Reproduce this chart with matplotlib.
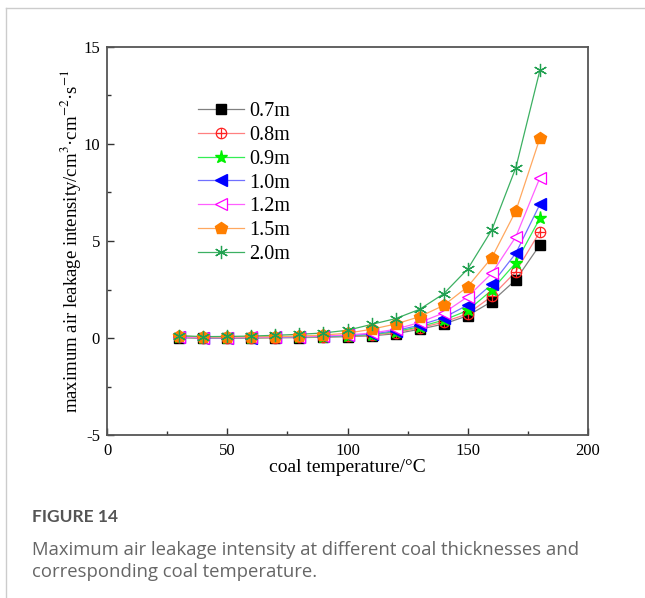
import matplotlib
matplotlib.use("Agg")
import matplotlib.pyplot as plt
from matplotlib.lines import Line2D
from matplotlib.legend_handler import HandlerTuple
from matplotlib.ticker import MultipleLocator

plt.rcParams['font.family'] = ['Liberation Serif', 'DejaVu Serif']
plt.rcParams['mathtext.fontset'] = 'stix'
plt.rcParams['axes.unicode_minus'] = False

temperature = [30, 40, 50, 60, 70, 80, 90, 100, 110, 120, 130, 140, 150, 160, 170, 180]
labels = ['0.7m', '0.8m', '0.9m', '1.0m', '1.2m', '1.5m', '2.0m']
s07 = [0.02, -0.02, -0.02, 0.00, 0.01, 0.02, 0.04, 0.07, 0.11, 0.22, 0.45, 0.72, 1.15, 1.88, 3.00, 4.80]
s08 = [0.03, 0.00, 0.00, 0.01, 0.02, 0.04, 0.06, 0.09, 0.14, 0.28, 0.52, 0.82, 1.25, 2.15, 3.42, 5.48]
s09 = [0.04, 0.01, 0.01, 0.02, 0.03, 0.05, 0.07, 0.11, 0.17, 0.33, 0.58, 0.92, 1.42, 2.47, 3.88, 6.17]
s10 = [0.04, 0.01, 0.01, 0.02, 0.04, 0.06, 0.09, 0.13, 0.20, 0.38, 0.66, 1.05, 1.70, 2.77, 4.37, 6.89]
s12 = [0.05, 0.02, 0.02, 0.03, 0.05, 0.07, 0.11, 0.16, 0.25, 0.45, 0.80, 1.29, 2.13, 3.33, 5.22, 8.26]
s15 = [0.10, 0.05, 0.05, 0.06, 0.07, 0.10, 0.15, 0.25, 0.45, 0.72, 1.10, 1.68, 2.65, 4.14, 6.55, 10.30]
s20 = [0.12, 0.07, 0.08, 0.10, 0.14, 0.19, 0.26, 0.40, 0.70, 1.00, 1.48, 2.28, 3.56, 5.57, 8.78, 13.80]
series = [s07, s08, s09, s10, s12, s15, s20]

fig = plt.figure(figsize=(6.45, 5.98), dpi=100)
ax = fig.add_axes([107/645, 1-435/598, (588-107)/645, (435-47)/598])

ms = 7.5
handles = []
# 0.7m
ax.plot(temperature, s07, color='#808080', lw=0.9, zorder=2)
ax.plot(temperature, s07, ls='none', marker='s', ms=ms-0.5, mfc='black', mec='black', zorder=3)
handles.append((Line2D([], [], color='#808080', lw=0.9),
                Line2D([], [], ls='none', marker='s', ms=ms-0.5, mfc='black', mec='black')))
# 0.8m
ax.plot(temperature, s08, color='#ff8080', lw=0.9, zorder=2)
ax.plot(temperature, s08, ls='none', marker='o', ms=ms, mfc='none', mec='#ff2020', mew=0.9, zorder=3)
ax.plot(temperature, s08, ls='none', marker='+', ms=ms, mec='#ff2020', mew=0.9, zorder=3)
handles.append((Line2D([], [], color='#ff8080', lw=0.9),
                Line2D([], [], ls='none', marker='o', ms=ms, mfc='none', mec='#ff2020', mew=0.9),
                Line2D([], [], ls='none', marker='+', ms=ms, mec='#ff2020', mew=0.9)))
# 0.9m
ax.plot(temperature, s09, color='#33ee55', lw=0.9, zorder=2)
ax.plot(temperature, s09, ls='none', marker='*', ms=ms+2, mfc='#00ff00', mec='#00ee00', zorder=3)
handles.append((Line2D([], [], color='#33ee55', lw=0.9),
                Line2D([], [], ls='none', marker='*', ms=ms+2, mfc='#00ff00', mec='#00ee00')))
# 1.0m
ax.plot(temperature, s10, color='#7070ff', lw=0.9, zorder=2)
ax.plot(temperature, s10, ls='none', marker='<', ms=ms+1, mfc='#0000ff', mec='#0000ff', zorder=3)
handles.append((Line2D([], [], color='#7070ff', lw=0.9),
                Line2D([], [], ls='none', marker='<', ms=ms+1, mfc='#0000ff', mec='#0000ff')))
# 1.2m
ax.plot(temperature, s12, color='#ff60ff', lw=0.9, zorder=2)
ax.plot(temperature, s12, ls='none', marker='<', ms=ms+1, mfc='white', mec='#ff00ff', mew=0.9, zorder=3)
handles.append((Line2D([], [], color='#ff60ff', lw=0.9),
                Line2D([], [], ls='none', marker='<', ms=ms+1, mfc='white', mec='#ff00ff', mew=0.9)))
# 1.5m
ax.plot(temperature, s15, color='#ffa860', lw=0.9, zorder=2)
ax.plot(temperature, s15, ls='none', marker='p', ms=ms+1.5, mfc='#ff7f00', mec='#ff7f00', zorder=3)
handles.append((Line2D([], [], color='#ffa860', lw=0.9),
                Line2D([], [], ls='none', marker='p', ms=ms+1.5, mfc='#ff7f00', mec='#ff7f00')))
# 2.0m
ax.plot(temperature, s20, color='#3cb062', lw=0.9, zorder=2)
ax.plot(temperature, s20, ls='none', marker=(6, 2, 0), ms=ms+2, mec='#20a050', mew=0.9, zorder=3)
handles.append((Line2D([], [], color='#3cb062', lw=0.9),
                Line2D([], [], ls='none', marker=(6, 2, 0), ms=ms+2, mec='#20a050', mew=0.9)))

leg = ax.legend(handles, labels, handler_map={tuple: HandlerTuple(ndivide=1, pad=0)},
                loc='upper left', bbox_to_anchor=(0.172, 0.88), frameon=False,
                fontsize=14.5, handlelength=2.3, handletextpad=0.25, labelspacing=0.24,
                borderaxespad=0)

ax.set_xlim(0, 200)
ax.set_ylim(-5, 15)
ax.xaxis.set_major_locator(MultipleLocator(50))
ax.xaxis.set_minor_locator(MultipleLocator(25))
ax.yaxis.set_major_locator(MultipleLocator(5))
ax.yaxis.set_minor_locator(MultipleLocator(2.5))
ax.tick_params(which='both', direction='in', top=False, right=False, colors='#333333',
               labelcolor='black', labelsize=12)
ax.tick_params(which='major', length=5, width=1.0, pad=6)
ax.tick_params(axis='y', which='major', pad=5)
ax.tick_params(which='minor', length=3, width=1.0)
for sp in ax.spines.values():
    sp.set_color('#555555')
    sp.set_linewidth(1.3)

ax.set_xlabel('coal temperature/°C', fontsize=14, labelpad=0)
ax.set_ylabel(r'maximum air leakage intensity/cm$^{3}$·cm$^{-2}$·s$^{-1}$', fontsize=13.5, labelpad=0)

# frame lines
fig.add_artist(Line2D([6/645, 6/645], [0, 1-8/598], color='#cccccc', lw=1.0))
fig.add_artist(Line2D([6/645, 1], [1-8/598, 1-8/598], color='#cccccc', lw=1.0))

fig.text(32/645, 1-517/598, 'FIGURE 14', fontsize=12.5, fontweight='bold', color='#555555',
         family=['Lato', 'DejaVu Sans'], va='center', ha='left')
fig.text(32/645, 1-561/598,
         'Maximum air leakage intensity at different coal thicknesses and\ncorresponding coal temperature.',
         fontsize=13.3, color='#666666', family=['Open Sans', 'DejaVu Sans'], va='center', ha='left',
         linespacing=1.3)

fig.savefig('out.png', dpi=100)
